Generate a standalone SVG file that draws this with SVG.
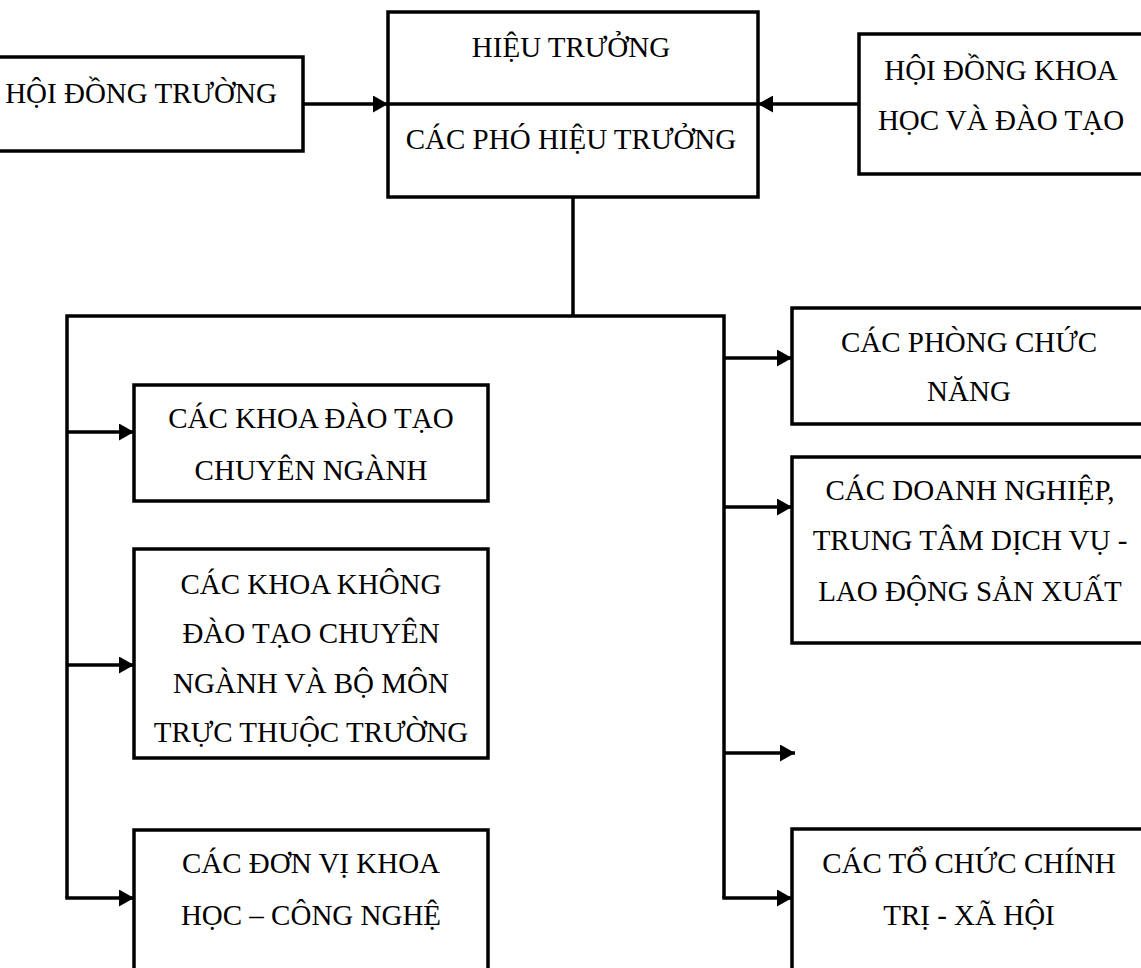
<svg xmlns="http://www.w3.org/2000/svg" width="1141" height="968" viewBox="0 0 1141 968">
<style>
.box{fill:#fff;stroke:#000;stroke-width:3.5}
.ln{fill:none;stroke:#000;stroke-width:3.5}
.t{font-family:"Liberation Serif","Times New Roman",serif;font-size:29px;fill:#000;text-anchor:middle}
</style>
<defs>
<marker id="ah" markerUnits="userSpaceOnUse" markerWidth="16" markerHeight="17" refX="15" refY="8.5" orient="auto">
<path d="M0,0 L15,8.5 L0,17 Z" fill="#000"/>
</marker>
</defs>
<rect width="1141" height="968" fill="#fff"/>
<g id="connectors">
<line class="ln" x1="303" y1="104" x2="388" y2="104" marker-end="url(#ah)"/>
<line class="ln" x1="859" y1="104" x2="758" y2="104" marker-end="url(#ah)"/>
<polyline class="ln" points="573,197 573,316"/>
<polyline class="ln" points="67,898 67,316 724,316 724,898"/>
<line class="ln" x1="67" y1="432" x2="134" y2="432" marker-end="url(#ah)"/>
<line class="ln" x1="67" y1="665" x2="134" y2="665" marker-end="url(#ah)"/>
<line class="ln" x1="65.3" y1="898" x2="134" y2="898" marker-end="url(#ah)"/>
<line class="ln" x1="724" y1="358" x2="792" y2="358" marker-end="url(#ah)"/>
<line class="ln" x1="724" y1="507" x2="792" y2="507" marker-end="url(#ah)"/>
<line class="ln" x1="724" y1="753" x2="795" y2="753" marker-end="url(#ah)"/>
<line class="ln" x1="722.3" y1="898" x2="792" y2="898" marker-end="url(#ah)"/>
</g>
<g id="hoi-dong-truong">
<rect class="box" x="-10" y="57" width="313" height="94"/>
<text class="t" x="141" y="103">HỘI ĐỒNG TRƯỜNG</text>
</g>
<g id="hieu-truong">
<rect class="box" x="388" y="12" width="370" height="185"/>
<line class="ln" x1="388" y1="104" x2="758" y2="104"/>
<text class="t" x="571" y="57">HIỆU TRƯỞNG</text>
<text class="t" x="571" y="149">CÁC PHÓ HIỆU TRƯỞNG</text>
</g>
<g id="hoi-dong-khoa-hoc">
<rect class="box" x="859" y="34" width="300" height="140"/>
<text class="t" x="1001" y="80">HỘI ĐỒNG KHOA</text>
<text class="t" x="1001" y="130">HỌC VÀ ĐÀO TẠO</text>
</g>
<g id="khoa-dao-tao">
<rect class="box" x="134" y="385" width="354" height="116"/>
<text class="t" x="311" y="428">CÁC KHOA ĐÀO TẠO</text>
<text class="t" x="311" y="480">CHUYÊN NGÀNH</text>
</g>
<g id="khoa-khong-dao-tao">
<rect class="box" x="134" y="549" width="354" height="209"/>
<text class="t" x="311" y="594">CÁC KHOA KHÔNG</text>
<text class="t" x="311" y="643">ĐÀO TẠO CHUYÊN</text>
<text class="t" x="311" y="693">NGÀNH VÀ BỘ MÔN</text>
<text class="t" x="311" y="742">TRỰC THUỘC TRƯỜNG</text>
</g>
<g id="don-vi-khoa-hoc">
<rect class="box" x="134" y="830" width="354" height="150"/>
<text class="t" x="311" y="873">CÁC ĐƠN VỊ KHOA</text>
<text class="t" x="311" y="925">HỌC – CÔNG NGHỆ</text>
</g>
<g id="phong-chuc-nang">
<rect class="box" x="792" y="308" width="360" height="116"/>
<text class="t" x="969" y="352">CÁC PHÒNG CHỨC</text>
<text class="t" x="969" y="401">NĂNG</text>
</g>
<g id="doanh-nghiep">
<rect class="box" x="792" y="457" width="360" height="186"/>
<text class="t" x="970" y="500">CÁC DOANH NGHIỆP,</text>
<text class="t" x="970" y="550">TRUNG TÂM DỊCH VỤ -</text>
<text class="t" x="970" y="601">LAO ĐỘNG SẢN XUẤT</text>
</g>
<g id="to-chuc-chinh-tri">
<rect class="box" x="792" y="829" width="360" height="150"/>
<text class="t" x="969" y="873">CÁC TỔ CHỨC CHÍNH</text>
<text class="t" x="969" y="925">TRỊ - XÃ HỘI</text>
</g>
</svg>
